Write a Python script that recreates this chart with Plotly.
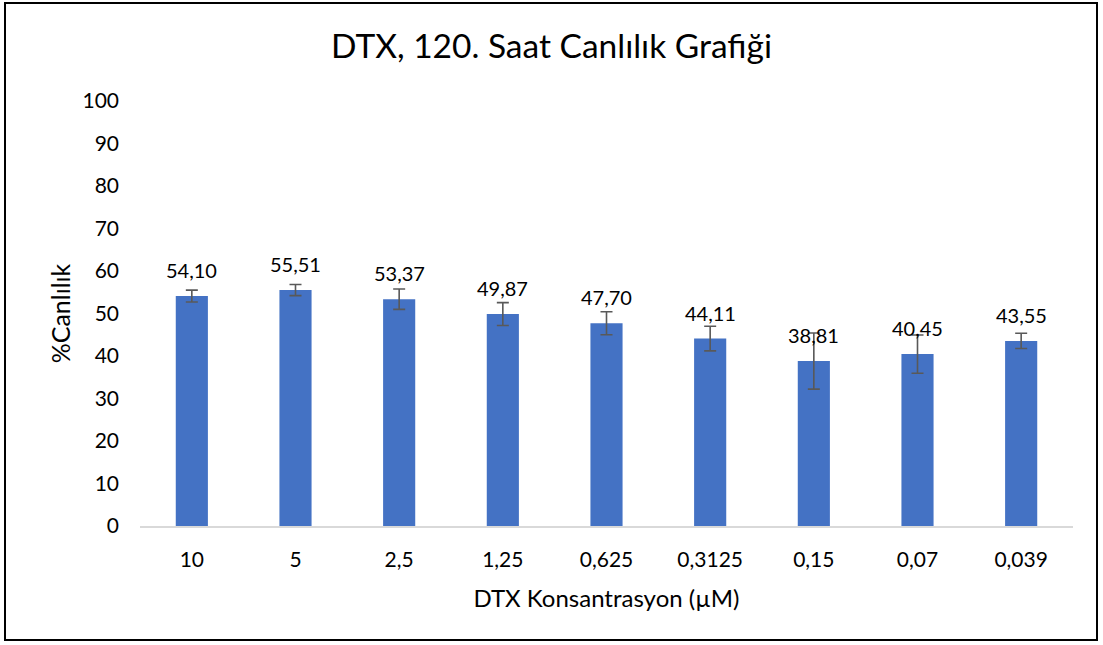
import plotly.graph_objects as go

categories = ["10", "5", "2,5", "1,25", "0,625", "0,3125", "0,15", "0,07", "0,039"]
values = [54.10, 55.51, 53.37, 49.87, 47.70, 44.11, 38.81, 40.45, 43.55]
errors = [1.4, 1.3, 2.4, 2.7, 2.7, 2.9, 6.6, 4.5, 1.8]
y_ticks = list(range(0, 101, 10))

FONT = "Lato, Open Sans, sans-serif"

fig = go.Figure()
fig.add_trace(go.Bar(
    x=categories, y=values,
    marker=dict(color="#4472C4", line=dict(width=0)),
    error_y=dict(type="data", array=errors, visible=True, color="#595959", thickness=1.6, width=6),
    width=0.31,
))

for i, v in enumerate(values):
    fig.add_annotation(x=i, y=v, text=f"{v:.2f}".replace(".", ","), showarrow=False,
                       yanchor="middle", yshift=26, font=dict(size=20, color="#000", family=FONT))

L, R, T, B = 140, 30, 101, 119
W, H = 1103, 645
pw, ph = W - L - R, H - T - B
fig.add_shape(type="rect", xref="paper", yref="paper",
              x0=(5 - L) / pw, x1=(1097 - L) / pw,
              y0=(H - B - 640) / ph, y1=(H - B - 3) / ph,
              line=dict(color="#000", width=2), layer="below")

fig.update_layout(
    width=W, height=H,
    margin=dict(l=L, r=R, t=T, b=B, autoexpand=False),
    paper_bgcolor="white", plot_bgcolor="white",
    title=dict(text="DTX, 120. Saat Canlılık Grafiği", x=0.5, xanchor="center", y=1 - 46 / H, yanchor="middle",
               font=dict(size=33.5, color="#000", family=FONT), automargin=False),
    font=dict(family=FONT, color="#000"),
    showlegend=False,
    xaxis=dict(type="category", showline=True, linecolor="#D9D9D9", linewidth=1.5, ticks="", showgrid=False,
               automargin=False, range=[-0.5, 8.5], ticklabelstandoff=14,
               tickfont=dict(size=21), title=dict(text="DTX Konsantrasyon (µM)", font=dict(size=24), standoff=20)),
    yaxis=dict(range=[0, 100], tickvals=y_ticks, showgrid=False, zeroline=False, showline=False, automargin=False,
               tickfont=dict(size=21), ticklen=0, ticks="", ticklabelstandoff=20,
               title=dict(text="%Canlılık", font=dict(size=25), standoff=4)),
)

fig.write_html("out.html", config={"displayModeBar": False},
               post_script="document.body.style.margin='0';")
